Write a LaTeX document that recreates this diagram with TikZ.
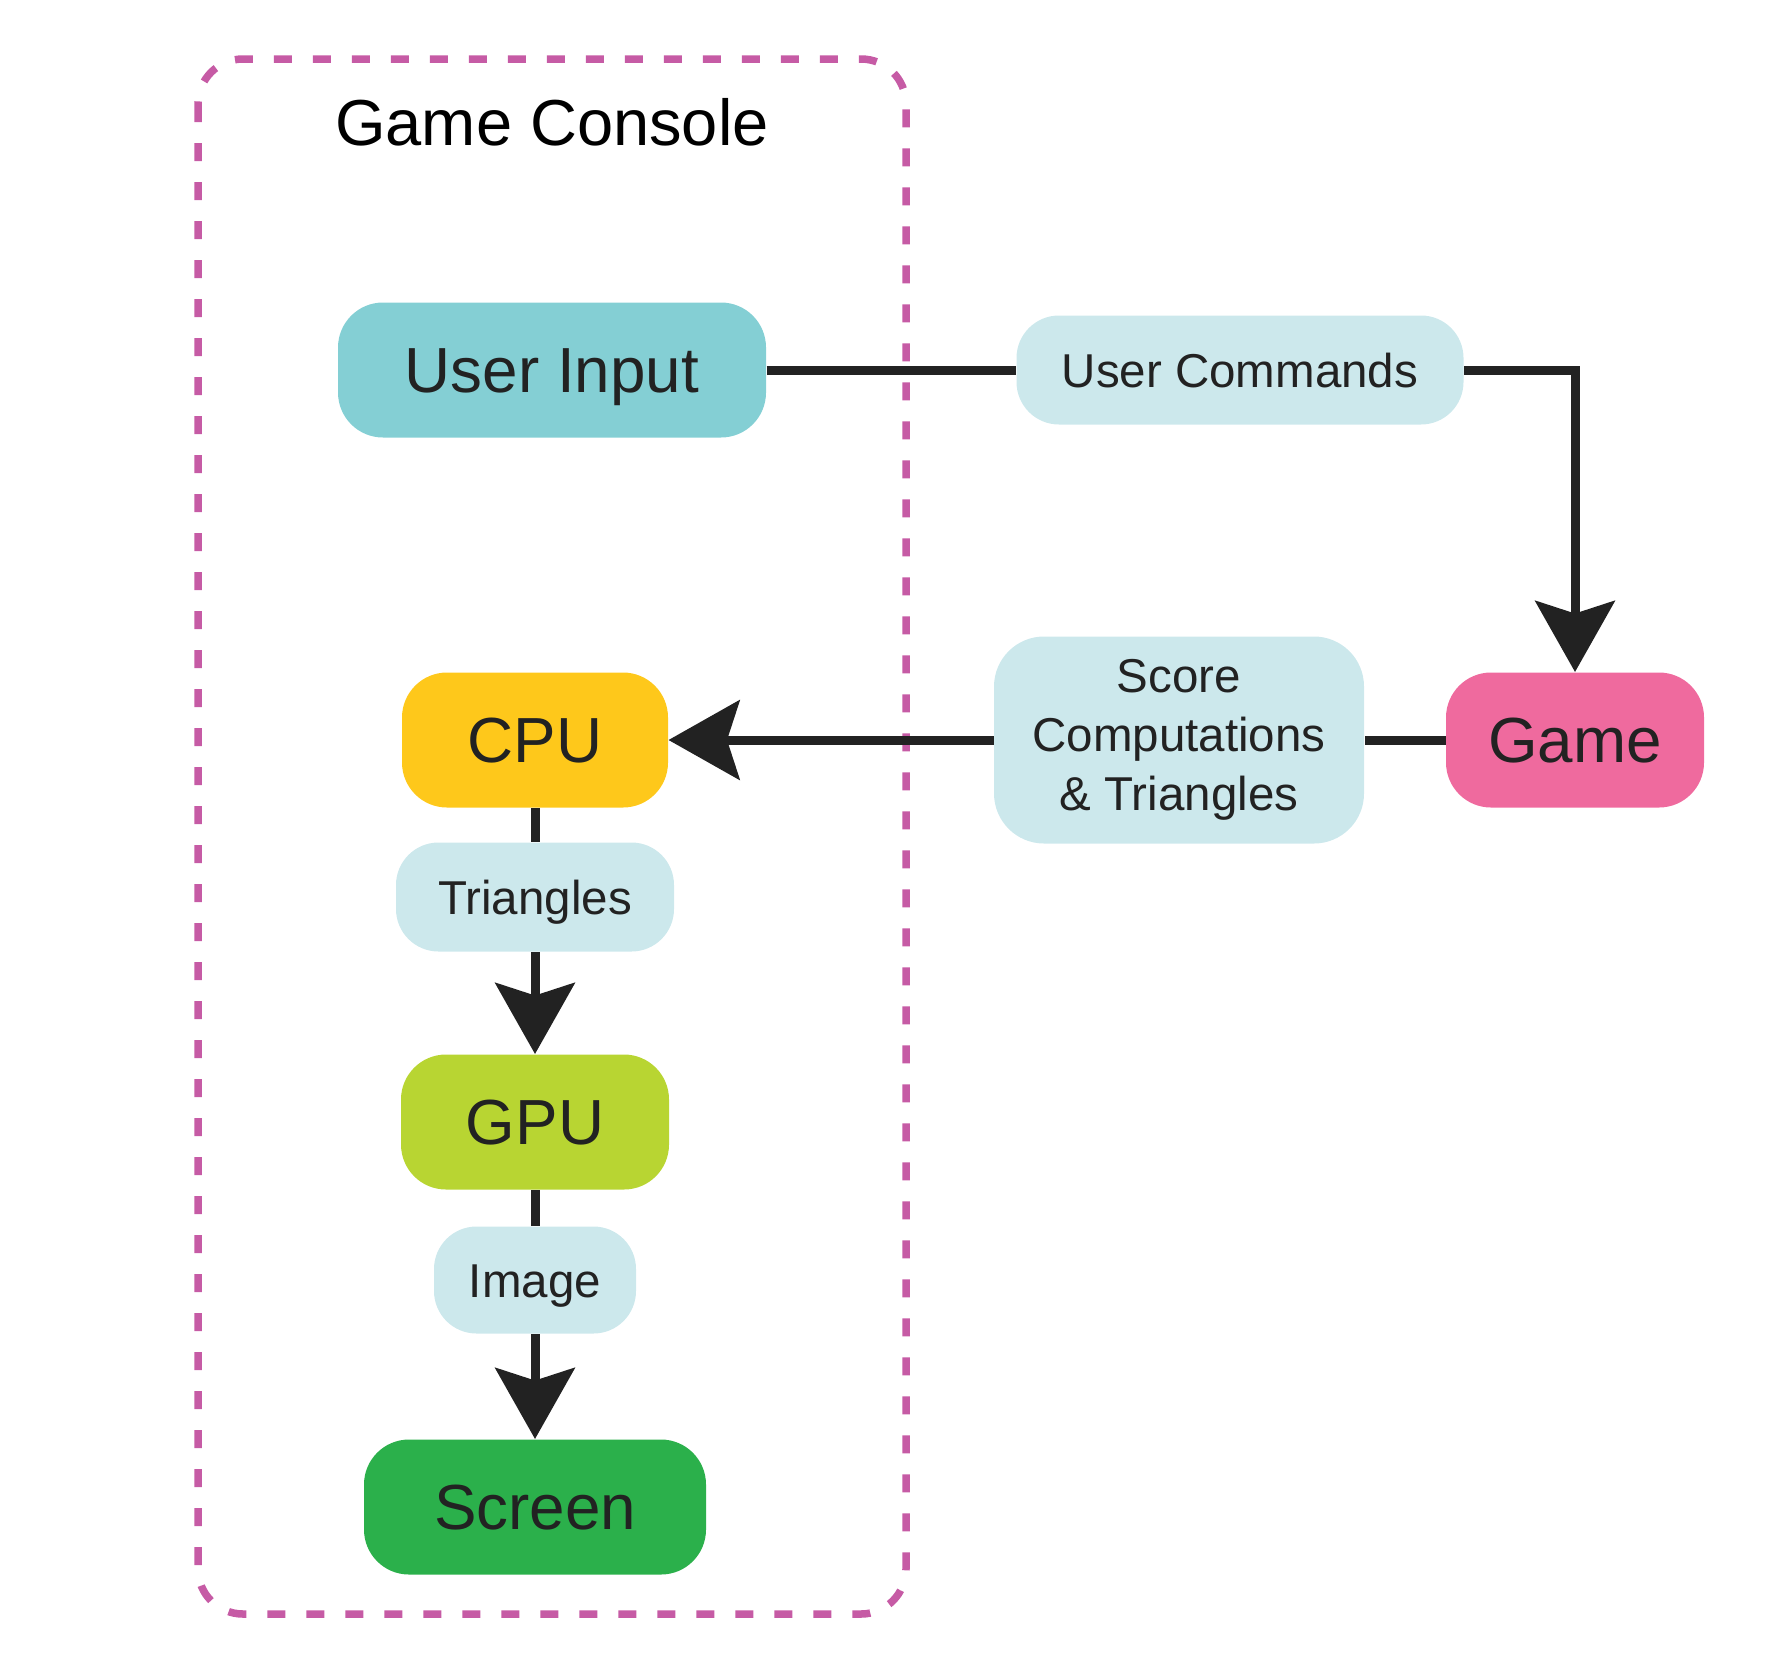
\documentclass[tikz,border=0pt]{standalone}
\usepackage{fontspec}
\setmainfont{Liberation Sans}
\usetikzlibrary{arrows.meta}
\definecolor{inputcol}{HTML}{84CFD4}
\definecolor{gamecol}{HTML}{EF6A9E}
\definecolor{cpucol}{HTML}{FEC81B}
\definecolor{gpucol}{HTML}{B8D532}
\definecolor{screencol}{HTML}{2BB04B}
\definecolor{tagcol}{HTML}{CCE8EC}
\definecolor{consolecol}{HTML}{C65BA5}
\definecolor{wirecol}{HTML}{222222}
\begin{document}
\begin{tikzpicture}[x=0.4pt, y=-0.4pt, >={Stealth[length=28.4pt, width=31.7pt, inset=5pt]}, font=\fontsize{25.5}{30}\selectfont]
	\tikzset{box/.style={fill=#1, text=wirecol, rounded corners=18pt, minimum height=54pt, inner sep=0pt, text height=18.3pt, text depth=0pt},
		tag/.style={fill=tagcol, text=wirecol, rounded corners=17pt, minimum height=43.6pt, inner sep=0pt, text height=13.6pt, text depth=0pt, font=\fontsize{19}{23.7}\selectfont},
		wire/.style={draw=wirecol, line width=3.6pt}}
	\useasboundingbox (0,0) rectangle (1785,1667);
	\draw[draw=consolecol, line width=3pt, dash pattern=on 7.2pt off 8.4pt, rounded corners=18pt] (198,59) rectangle (906,1614);
	\node[anchor=base, font=\fontsize{26}{30}\selectfont] (console) at (552,145) {Game Console};
	\node[box=inputcol, minimum width=171.2pt] (input) at (552,370) {User Input};
	\node[tag, minimum width=178.8pt] (commands) at (1240,370) {User Commands};
	\node[box=gamecol, minimum width=103.2pt] (game) at (1575,740) {Game};
	\node[tag, minimum width=148pt, minimum height=82.8pt, rounded corners=20pt, align=center, text height=, text depth=] (score) at (1179,740) {Score\\Computations\\\& Triangles};
	\node[box=cpucol, minimum width=106.4pt] (cpu) at (535,740) {CPU};
	\node[tag, minimum width=111.2pt] (triangles) at (535,897) {Triangles};
	\node[box=gpucol, minimum width=107.2pt] (gpu) at (535,1122) {GPU};
	\node[tag, minimum width=80.8pt, minimum height=42.8pt] (image) at (535,1280) {Image};
	\node[box=screencol, minimum width=136.8pt] (screen) at (535,1507) {Screen};
	\draw[wire] (input.east) -- (commands.west);
	\draw[wire, ->] (commands.east) -| (game.north);
	\draw[wire] (game.west) -- (score.east);
	\draw[wire, ->] (score.west) -- (cpu.east);
	\draw[wire] (cpu.south) -- (triangles.north);
	\draw[wire, ->] (triangles.south) -- (gpu.north);
	\draw[wire] (gpu.south) -- (image.north);
	\draw[wire, ->] (image.south) -- (screen.north);
\end{tikzpicture}
\end{document}
